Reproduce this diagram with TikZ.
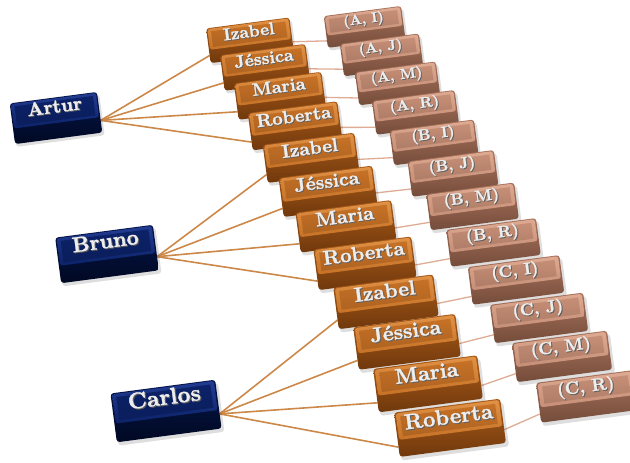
\documentclass[tikz,border=0pt]{standalone}
\usepackage{fontspec}
\newfontfamily\brickfont{lmroman10-bold.otf}[FakeBold=1.4]
\pgfdeclarelayer{back}
\pgfsetlayers{back,main}

% block colours: Top = lit upper bevel, Face = top face, Side = front, Deep = lower edge
\definecolor{orTop}{RGB}{224,146,70}
\definecolor{orFace}{RGB}{198,113,38}
\definecolor{orSide}{RGB}{170,92,26}
\definecolor{orDeep}{RGB}{112,56,12}
\definecolor{peTop}{RGB}{222,170,146}
\definecolor{peFace}{RGB}{198,142,118}
\definecolor{peSide}{RGB}{170,116,94}
\definecolor{peDeep}{RGB}{116,76,58}
\definecolor{nvTop}{RGB}{34,60,146}
\definecolor{nvFace}{RGB}{12,34,104}
\definecolor{nvSide}{RGB}{6,22,74}
\definecolor{nvDeep}{RGB}{0,8,34}
\definecolor{wireOr}{RGB}{204,136,72}
\definecolor{wirePe}{RGB}{222,172,148}

\tikzset{
  labeltext/.style={font=\brickfont, transform shape, inner sep=0pt, anchor=base},
  wireor/.style={draw=wireOr, line width=1.6pt},
  wirepe/.style={draw=wirePe, line width=1.3pt},
  % #1 width, #2 height, #3 colour set, #4 font size, #5 baseline depth (fraction of height), #6 label
  pics/brick/.style n args={6}{code={
    \fill[black, opacity=0.13, rounded corners=3pt]
      (-#1/2+1,-#2/2-3) rectangle (#1/2+2,#2/2-3);
    \shade[rounded corners=3pt, top color=#3Side, bottom color=#3Deep]
      (-#1/2,-#2/2) rectangle (#1/2,#2/2);
    \shade[rounded corners=2.5pt, top color=#3Top, bottom color=#3Face]
      (-#1/2+1.2,-#2/2+0.38*#2) rectangle (#1/2-1.2,#2/2-0.8);
    \shade[top color=#3Face, bottom color=#3Face!88!black]
      (-#1/2+4.5,-#2/2+0.38*#2+2.5) rectangle (#1/2-4.5,#2/2-3.5);
    \coordinate (-c) at (0,0);
    \coordinate (-e) at (#1/2,-0.2*#2);
    \coordinate (-w) at (-#1/2,-0.28*#2);
    \node[labeltext, text=black!62] (-s) at (0.8,#2/2-#5*#2-0.9)
      {\fontsize{#4}{#4}\selectfont #6};
    \node[labeltext, text=white!93!black] (-t) at (0,#2/2-#5*#2)
      {\fontsize{#4}{#4}\selectfont #6};
  }},
}

\begin{document}
\begin{tikzpicture}[x=1pt,y=1pt]
\useasboundingbox (0,0) rectangle (630,-463);

% people
\pic[rotate=7.5]            (artur)  at (56,-118)  {brick={88}{41}{nv}{19}{0.37}{Artur}};
\pic[rotate=7.5,scale=1.12] (bruno)  at (107,-254) {brick={88}{41}{nv}{19}{0.37}{Bruno}};
\pic[rotate=7.5,scale=1.2]  (carlos) at (166,-411) {brick={88}{41}{nv}{19}{0.37}{Carlos}};

% partners
\pic[rotate=7.5,scale=1.000] (o1)  at (250,-40.3)  {brick={84}{35}{or}{17}{0.41}{Izabel}};
\pic[rotate=7.5,scale=1.025] (o2)  at (265,-67.3)  {brick={84}{35}{or}{17}{0.41}{Jéssica}};
\pic[rotate=7.5,scale=1.050] (o3)  at (280,-95.8)  {brick={84}{35}{or}{17}{0.41}{Maria}};
\pic[rotate=7.5,scale=1.075] (o4)  at (295,-125.8) {brick={84}{35}{or}{17}{0.41}{Roberta}};
\pic[rotate=7.5,scale=1.100] (o5)  at (311,-157.8) {brick={84}{35}{or}{17}{0.41}{Izabel}};
\pic[rotate=7.5,scale=1.125] (o6)  at (328,-191.3) {brick={84}{35}{or}{17}{0.41}{Jéssica}};
\pic[rotate=7.5,scale=1.150] (o7)  at (346,-226.3) {brick={84}{35}{or}{17}{0.41}{Maria}};
\pic[rotate=7.5,scale=1.175] (o8)  at (365,-263.3) {brick={84}{35}{or}{17}{0.41}{Roberta}};
\pic[rotate=7.5,scale=1.200] (o9)  at (386,-301.8) {brick={84}{35}{or}{17}{0.41}{Izabel}};
\pic[rotate=7.5,scale=1.225] (o10) at (407,-341.8) {brick={84}{35}{or}{17}{0.41}{Jéssica}};
\pic[rotate=7.5,scale=1.250] (o11) at (428,-383.8) {brick={84}{35}{or}{17}{0.41}{Maria}};
\pic[rotate=7.5,scale=1.275] (o12) at (450,-427.8) {brick={84}{35}{or}{17}{0.41}{Roberta}};

% ordered pairs
\pic[rotate=7.5,scale=1.000] (p1)  at (364.5,-26.9)  {brick={78}{32}{pe}{14}{0.39}{(A, I)}};
\pic[rotate=7.5,scale=1.023] (p2)  at (381.5,-54.9)  {brick={78}{32}{pe}{14}{0.39}{(A, J)}};
\pic[rotate=7.5,scale=1.046] (p3)  at (397.5,-83.4)  {brick={78}{32}{pe}{14}{0.39}{(A, M)}};
\pic[rotate=7.5,scale=1.069] (p4)  at (415.5,-112.4) {brick={78}{32}{pe}{14}{0.39}{(A, R)}};
\pic[rotate=7.5,scale=1.092] (p5)  at (434,-142.4)   {brick={78}{32}{pe}{14}{0.39}{(B, I)}};
\pic[rotate=7.5,scale=1.115] (p6)  at (453,-173.4)   {brick={78}{32}{pe}{14}{0.39}{(B, J)}};
\pic[rotate=7.5,scale=1.138] (p7)  at (472.5,-206.4) {brick={78}{32}{pe}{14}{0.39}{(B, M)}};
\pic[rotate=7.5,scale=1.161] (p8)  at (493.5,-242.4) {brick={78}{32}{pe}{14}{0.39}{(B, R)}};
\pic[rotate=7.5,scale=1.184] (p9)  at (516,-279.9)   {brick={78}{32}{pe}{14}{0.39}{(C, I)}};
\pic[rotate=7.5,scale=1.207] (p10) at (539,-317.9)   {brick={78}{32}{pe}{14}{0.39}{(C, J)}};
\pic[rotate=7.5,scale=1.230] (p11) at (562,-356.4)   {brick={78}{32}{pe}{14}{0.39}{(C, M)}};
\pic[rotate=7.5,scale=1.253] (p12) at (587,-396.4)   {brick={78}{32}{pe}{14}{0.39}{(C, R)}};

% connectors, behind the blocks
\begin{pgfonlayer}{back}
  \foreach \i in {1,...,4}  {\draw[wireor] (artur-e)  -- (o\i-w);}
  \foreach \i in {5,...,8}  {\draw[wireor] (bruno-e)  -- (o\i-w);}
  \foreach \i in {9,...,12} {\draw[wireor] (carlos-e) -- (o\i-w);}
  \foreach \i in {1,...,12} {\draw[wirepe] (o\i-e) -- (p\i-w);}
\end{pgfonlayer}
\end{tikzpicture}
\end{document}
